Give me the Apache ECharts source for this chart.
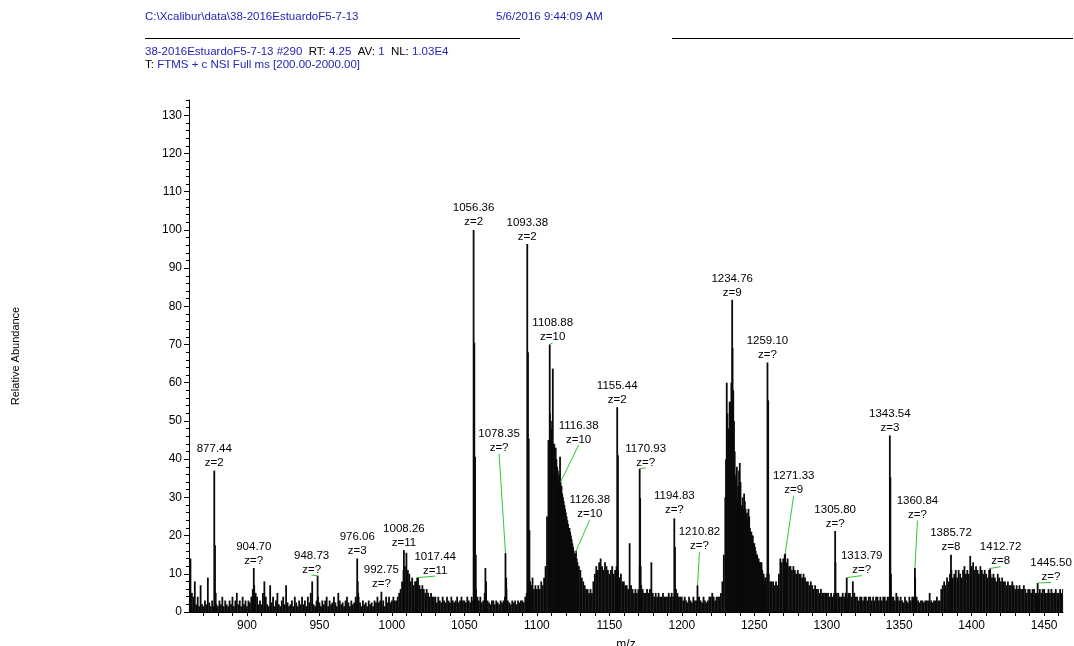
<!DOCTYPE html>
<html>
<head>
<meta charset="utf-8">
<script src="https://cdn.jsdelivr.net/npm/echarts@6/dist/echarts.min.js"></script>
<style>html,body{margin:0;padding:0;background:#fff}#c{width:1074px;height:646px}</style>
</head>
<body>
<div id="c"></div>
<script>
// ---------- DATA ----------
// background spectrum, one sample per m/z unit starting at profileStart
const profileStart = 860;
const profile = [
  3,14,5,4,8,2,4,1.5,7,2,            // 860
  1.5,3,2,9,2.5,1.5,3,1.5,3,2,       // 870
  1.5,3,2,4,1.5,3,2,1.5,3,2,         // 880
  4,1.5,3,5,2,3,1.5,4,2,3,           // 890
  1.5,3,2.5,4,6,7,5,4,2,3,           // 900
  2,5,8,4,2,1.5,7,2.5,4,1.5,         // 910
  3,5,2,1.5,3,4,2,7,2.5,1.5,         // 920
  2,3,1.5,4,2.5,1.5,3,2,4,2,         // 930
  3,1.5,4,2.5,5,8,2,1.5,3,4,         // 940
  2.5,1.5,3,2,3,4,1.5,3,2,2.5,       // 950
  4,2.5,1.5,5,3,2,2.5,1.5,3,4,       // 960
  2.5,1.5,3,2,2.5,4,3,4,2.5,1.5,     // 970
  3,2,2.5,1.5,3,2,2.5,1.5,3,2.5,     // 980
  4,2.5,3,2,3,1.5,4,2.5,4,2.5,       // 990
  3,4,3,3,4,5,6,8,11,12,     // 1000
  15.5,11,10,8,9,7,8,8,9,7,  // 1010
  6,7,6,5,6,5,4,5,4,4,       // 1020
  4,2.5,4,3,2.5,4,3,2.5,4,3, // 1030
  2.5,4,3,2.5,3,4,2.5,3,4,3, // 1040
  3,2.5,4,3,2.5,4,3,3,6,4,   // 1050
  3,4,2.5,3,5,8,3,2.5,2,3,   // 1060
  3,2,3,2.5,2,3,2.5,3,4,6,   // 1070
  3,2.5,2,3,2.5,3,2,3,2.5,3, // 1080
  3,2.5,4,5,4,6,7,9,6,7,     // 1090
  6,7,6,8,7,9,12,25,45,52,   // 1100
  48,63.7,44,43,38,35,40.6,33,30,28, // 1110
  26,24,22,21,19,17,15,16,13,12,     // 1120
  11,9,8,7,6,6,5,6,5,8,      // 1130
  10,12,11,13,14,12,11,13,12,11, // 1140
  10,11,12,10,11,12,11,9,10,8,   // 1150
  8,7,7,6,18,7,6,5,6,5,      // 1160
  6,12,7,6,5,5,6,5,6,13,     // 1170
  5,4,5,4,5,4,4,5,4,4,       // 1180
  4,5,4,5,4,5,6,5,4,4,       // 1190
  4,3,4,3,2.5,4,3,2.5,4,3,   // 1200
  3,4,4,3,2.5,4,3,2.5,3,4,   // 1210
  4,5,4,3,4,4,4,5,8,15,      // 1220
  30,60,45,55,50,69,50,35,38,33,  // 1230
  39,27,30,31,27,26,27,22,21,20,  // 1240
  18,16,15,14,13,13,10,8,9,10,    // 1250
  10,8,8,8,7,8,7,10,14,13,   // 1260
  14,15,13,14,12,12,11,12,11,10, // 1270
  11,10,10,9,10,9,8,8,7,8,   // 1280
  7,6,7,6,6,5,6,5,5,5,       // 1290
  5,5,4,5,4,5,13,5,5,4,      // 1300
  4,5,4,5,4,5,5,4,8,5,       // 1310
  4,4,3,4,4,3,4,4,3,4,       // 1320
  4,3,4,3,4,4,3,4,3,4,       // 1330
  4,3,4,4,6,4,4,3,5,4,       // 1340
  3,4,3,2.5,4,3,2.5,4,3,4,   // 1350
  4,9,4,3,2.5,3,3,2.5,3,3,   // 1360
  3,5,3,2.5,3,3,4,3,3,6,     // 1370
  7,8,7,9,8,10,11,9,10,11,   // 1380
  9,11,10,9,11,12,10,11,10,14.7, // 1390
  12,13,11,12,11,10,12,11,10,11, // 1400
  10,9,11,10,9,10,9,8,10,9,  // 1410
  8,9,8,8,7,8,7,7,8,7,       // 1420
  6,7,6,7,6,6,7,6,5,6,       // 1430
  6,5,6,6,5,5,5,6,5,6,       // 1440
  6,5,5,6,5,6,5,5,6,5,       // 1450
  5,6,5,6                    // 1460
];

// individual peaks [m/z, relative abundance]
const peaks = [
  [877.44,37],[877.94,17.5],[878.44,5],
  [904.70,11.5],[948.73,9.5],
  [976.06,14],[976.40,8],[976.73,5],
  [992.75,5.3],
  [1008.26,16.2],[1017.44,9],
  [1056.36,100],[1056.86,70.5],[1057.36,40.6],[1057.86,15],
  [1064.5,11.5],
  [1078.35,15.4],[1078.85,9],
  [1093.38,96.3],[1093.88,68],[1094.38,45.4],[1094.88,21.4],[1095.38,8],
  [1108.88,70],[1109.5,45],[1110.5,50],[1111.9,44],[1112.5,42],[1113.5,40],[1114.5,37],
  [1115.5,36],[1116.38,34],[1117.5,31],[1118.5,29],[1119.5,27],[1120.5,25],[1121.5,23],
  [1122.5,22],[1123.5,20],[1124.5,18],[1125.5,16],[1126.38,15.4],[1127.5,14],[1128.5,12],
  [1155.44,53.6],[1155.94,41],[1156.44,9],
  [1170.93,37.5],[1171.27,29.8],[1171.6,12],
  [1194.83,24.5],[1195.3,17],
  [1210.82,7],
  [1230.5,40],[1231.5,52],[1232.5,48],[1233.3,55],[1234.2,60],[1234.76,81.7],[1235.5,58],
  [1236.5,42],[1237.5,36],[1238.5,30],[1239.5,37],[1240.5,34],[1241.5,28],[1242.5,27],
  [1243.5,29],[1244.5,25],[1245.5,24],[1246.5,25],[1247.5,21],[1248.5,20],[1249.5,18],
  [1250.5,17],[1251.5,15],[1252.5,14],[1253.5,13],[1254.5,13],[1255.5,11],[1256.5,10],[1257.5,9],
  [1259.10,65.3],[1259.6,55.4],
  [1271.33,15.3],
  [1305.80,21.2],
  [1313.79,9],
  [1343.54,46.2],[1343.9,35.3],[1344.3,10],
  [1360.84,11.5],
  [1385.72,15],
  [1412.72,11.4],
  [1445.50,7.6]
];

// annotated peaks
const labelMz = [877.44,904.70,948.73,976.06,992.75,1008.26,1017.44,1056.36,1078.35,1093.38,
  1108.88,1116.38,1126.38,1155.44,1170.93,1194.83,1210.82,1234.76,1259.10,1271.33,
  1305.80,1313.79,1343.54,1360.84,1385.72,1412.72,1445.50];
const labelCharge = ['z=2','z=?','z=?','z=3','z=?','z=11','z=11','z=2','z=?','z=2',
  'z=10','z=10','z=10','z=2','z=?','z=?','z=?','z=9','z=?','z=9',
  'z=?','z=?','z=3','z=?','z=8','z=8','z=?'];

// axis ticks
const xLabelTicks = [900,950,1000,1050,1100,1150,1200,1250,1300,1350,1400,1450];
const xMinorTicks = [870,880,890,900,910,920,930,940,950,960,970,980,990,1000,1010,1020,1030,1040,1050,
  1060,1070,1080,1090,1100,1110,1120,1130,1140,1150,1160,1170,1180,1190,1200,1210,1220,1230,1240,
  1250,1260,1270,1280,1290,1300,1310,1320,1330,1340,1350,1360,1370,1380,1390,1400,1410,1420,1430,
  1440,1450,1460];
const yLabelTicks = [0,10,20,30,40,50,60,70,80,90,100,110,120,130];
const yMinorTicks = [0,2,4,6,8,10,12,14,16,18,20,22,24,26,28,30,32,34,36,38,40,42,44,46,48,50,52,54,56,58,
  60,62,64,66,68,70,72,74,76,78,80,82,84,86,88,90,92,94,96,98,100,102,104,106,108,110,112,114,116,118,
  120,122,124,126,128,130,132,134];

// ---------- LAYOUT (pixel offsets of annotation text from the peak top; true = leader line) ----------
const labelLayout = {
  '948.73':[-6,-6,true], '1017.44':[18,-7,true], '1078.35':[-6.4,-105,true], '1108.88':[3,-7.3,true],
  '1116.38':[18,-42.5,true], '1126.38':[14.7,-39,true], '1170.93':[6,-6.3,true], '1210.82':[2,-39,true],
  '1271.33':[8.5,-63.4,true], '1313.79':[15,-7.5,true], '1360.84':[2.5,-53,true], '1412.72':[10.5,-7.3,true],
  '1445.50':[13.4,-6,true], '1008.26':[0,-7.7,false], '1056.36':[0,-8,false], '1194.83':[0,-8.5,false]
};

const FONT = 'Liberation Sans';
const BLUE = '#2424b8';

const barData = profile.map((v, i) => [profileStart + i, v]).concat(peaks);
const labelData = labelMz.map(m => {
  const p = peaks.find(q => Math.abs(q[0] - m) < 0.005);
  return [m, p[1]];
});

const chart = echarts.init(document.getElementById('c'), null, {renderer: 'canvas'});
const axisCommonY = {type: 'value', min: 0, max: 134, splitLine: {show: false}, position: 'left'};

chart.setOption({
  animation: false,
  backgroundColor: '#fff',
  grid: {left: 189, right: 11, top: 100, bottom: 34, containLabel: false, outerBoundsMode: 'none'},
  xAxis: [{
    type: 'value', min: 860, max: 1463, position: 'bottom',
    splitLine: {show: false},
    axisLine: {lineStyle: {color: '#000', width: 1}},
    axisTick: {customValues: xMinorTicks, length: 4, lineStyle: {color: '#000'}},
    axisLabel: {customValues: xLabelTicks, color: '#000', fontSize: 12, fontFamily: FONT, margin: 8,
      formatter: v => String(v)},
    name: 'm/z', nameLocation: 'middle', nameGap: 27,
    nameTextStyle: {color: '#000', fontSize: 12, fontFamily: FONT}
  }],
  yAxis: [Object.assign({}, axisCommonY, {
    axisLine: {show: true, lineStyle: {color: '#000', width: 1}},
    axisTick: {show: true, customValues: yLabelTicks, length: 5, lineStyle: {color: '#000'}},
    axisLabel: {customValues: yLabelTicks, color: '#000', fontSize: 12, fontFamily: FONT, margin: 7,
      formatter: v => String(v)},
    name: 'Relative Abundance', nameLocation: 'middle', nameGap: 168, nameRotate: 90,
    nameTextStyle: {color: '#000', fontSize: 11, fontFamily: FONT}
  }), Object.assign({}, axisCommonY, {
    axisLine: {show: false},
    axisTick: {show: true, customValues: yMinorTicks, length: 3, lineStyle: {color: '#000'}},
    axisLabel: {show: false}
  })],
  series: [{
    type: 'bar', xAxisIndex: 0, yAxisIndex: 0,
    data: barData, barWidth: 1.8, silent: true,
    itemStyle: {color: '#0a0a0a'}
  }, {
    type: 'custom', xAxisIndex: 0, yAxisIndex: 0, clip: false, silent: true, z: 5,
    data: labelData,
    renderItem: function (params, api) {
      const i = params.dataIndex;
      const pt = api.coord([api.value(0), api.value(1)]);
      const key = labelMz[i].toFixed(2);
      const lay = labelLayout[key] || [0, -7.5, false];
      const lx = pt[0] + lay[0];
      const l2 = pt[1] + lay[1];
      const ts = {align: 'center', verticalAlign: 'middle', fontSize: 11.5, fontFamily: FONT, fill: '#000'};
      const children = [
        {type: 'text', style: Object.assign({text: key, x: lx, y: l2 - 14}, ts)},
        {type: 'text', style: Object.assign({text: labelCharge[i], x: lx, y: l2}, ts)}
      ];
      if (lay[2]) {
        children.push({type: 'line', shape: {x1: pt[0], y1: pt[1], x2: lx, y2: l2 + 5.5},
          style: {stroke: '#2ec82e', lineWidth: 1}});
      }
      return {type: 'group', children: children};
    }
  }],
  graphic: [
    {type: 'text', left: 145, top: 11, style: {text: 'C:\\Xcalibur\\data\\38-2016EstuardoF5-7-13', fontSize: 11.5, fontFamily: FONT, fill: BLUE}},
    {type: 'text', left: 496, top: 11, style: {text: '5/6/2016 9:44:09 AM', fontSize: 11.5, fontFamily: FONT, fill: BLUE}},
    {type: 'line', shape: {x1: 145, y1: 38.5, x2: 520, y2: 38.5}, style: {stroke: '#000', lineWidth: 1}},
    {type: 'line', shape: {x1: 672, y1: 38.5, x2: 1073, y2: 38.5}, style: {stroke: '#000', lineWidth: 1}},
    {type: 'text', left: 145, top: 46, style: {
      text: '{b|38-2016EstuardoF5-7-13 #290}  {k|RT:} {b|4.25}  {k|AV:} {b|1}  {k|NL:} {b|1.03E4}',
      rich: {b: {fill: BLUE, fontSize: 11.5, fontFamily: FONT}, k: {fill: '#000', fontSize: 11.5, fontFamily: FONT}},
      fontSize: 11.5, fontFamily: FONT}},
    {type: 'text', left: 145, top: 59, style: {
      text: '{k|T:} {b|FTMS + c NSI Full ms [200.00-2000.00]}',
      rich: {b: {fill: BLUE, fontSize: 11.5, fontFamily: FONT}, k: {fill: '#000', fontSize: 11.5, fontFamily: FONT}},
      fontSize: 11.5, fontFamily: FONT}}
  ]
});
</script>
</body>
</html>
